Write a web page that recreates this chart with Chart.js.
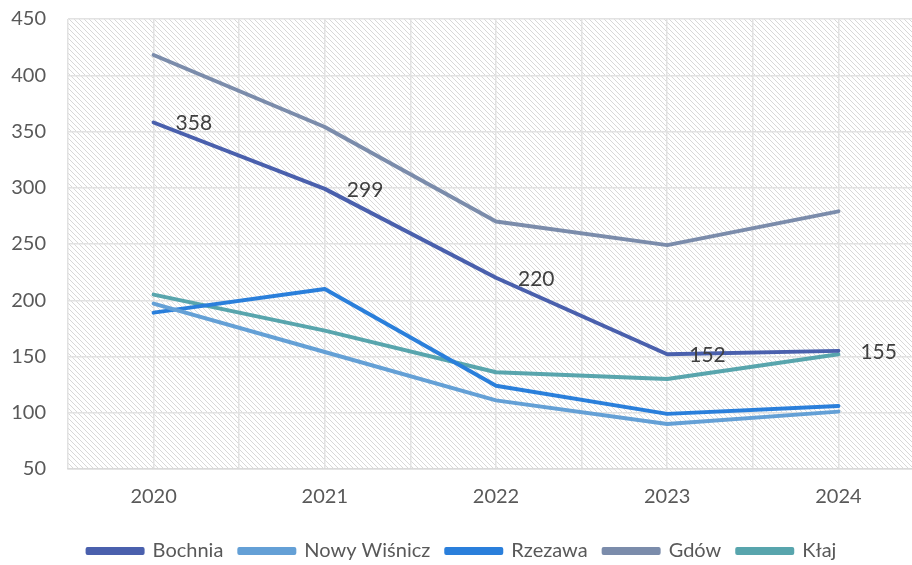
<!DOCTYPE html>
<html>
<head>
<meta charset="utf-8">
<script src="https://cdn.jsdelivr.net/npm/chart.js@4"></script>
<style>
  html, body { margin: 0; padding: 0; background: #fff; overflow: hidden; }
  #wrap { width: 954px; height: 565px; }
</style>
</head>
<body>
<div id="wrap"><canvas id="LineChart" width="954" height="565"></canvas></div>
<script>
// data
var years = ["2020", "2021", "2022", "2023", "2024"];
var bochnia = [358, 299, 220, 152, 155];
var nowyWisnicz = [197, 154, 111, 90, 101];
var rzezawa = [189, 210, 124, 99, 106];
var gdow = [418, 354, 270, 249, 279];
var klaj = [205, 173, 136, 130, 152];
var yTicks = [50, 100, 150, 200, 250, 300, 350, 400, 450];

var seriesNames = ["Bochnia", "Nowy Wiśnicz", "Rzezawa", "Gdów", "Kłaj"];
var seriesValues = [bochnia, nowyWisnicz, rzezawa, gdow, klaj];
var seriesColors = ["#4a60ad", "#64a0d6", "#2a7fdb", "#7b8cab", "#58a5ad"];

function toPoints(values) {
    return values.map(function (v, i) { return { x: i, y: v }; });
}

var _datasets = seriesNames.map(function (name, i) {
    return {
        label: name,
        data: toPoints(seriesValues[i]),
        borderColor: seriesColors[i],
        backgroundColor: seriesColors[i],
        borderWidth: 4,
        pointRadius: 0,
        tension: 0,
        borderCapStyle: "round",
        borderJoinStyle: "round"
    };
});

// hatched plot background
function makeHatch() {
    var c = document.createElement("canvas");
    c.width = 5; c.height = 5;
    var g = c.getContext("2d");
    g.fillStyle = "#ffffff";
    g.fillRect(0, 0, 5, 5);
    g.fillStyle = "#d8d8d8";
    for (var i = 0; i < 5; i++) g.fillRect(i, i, 1, 1);
    return c;
}

var hatchPlugin = {
    id: "hatch",
    beforeDraw: function (chart) {
        var a = chart.chartArea, ctx = chart.ctx;
        ctx.save();
        ctx.fillStyle = ctx.createPattern(makeHatch(), "repeat");
        ctx.fillRect(a.left, a.top, a.right - a.left, a.bottom - a.top);
        ctx.restore();
    }
};

// value labels for Bochnia
var labelPlugin = {
    id: "valueLabels",
    afterDatasetsDraw: function (chart) {
        var ctx = chart.ctx;
        var meta = chart.getDatasetMeta(0);
        ctx.save();
        ctx.font = "21px Lato";
        ctx.fillStyle = "#404040";
        ctx.textAlign = "left";
        ctx.textBaseline = "middle";
        meta.data.forEach(function (pt, i) {
            ctx.fillText(String(bochnia[i]), pt.x + 22, pt.y + 1);
        });
        ctx.restore();
    }
};

function noVertPadding(scale) {
    scale.paddingTop = 0;
    scale.paddingBottom = 0;
}

new Chart("LineChart", {
    type: "line",
    data: { datasets: _datasets },
    plugins: [hatchPlugin, labelPlugin],
    options: {
        responsive: false,
        animation: false,
        layout: { padding: { top: 19, right: 30, left: 0, bottom: -6 } },
        plugins: {
            tooltip: { enabled: false },
            legend: {
                position: "bottom",
                labels: {
                    boxWidth: 55,
                    boxHeight: 4,
                    padding: 16,
                    color: "#595959",
                    font: { family: "Lato", size: 20 }
                }
            }
        },
        scales: {
            x: {
                type: "linear",
                min: -0.5,
                max: 4.5,
                afterBuildTicks: function (scale) {
                    var t = [];
                    for (var v = -0.5; v <= 4.5; v += 0.5) t.push({ value: v });
                    scale.ticks = t;
                },
                afterFit: noVertPadding,
                ticks: {
                    autoSkip: false,
                    maxRotation: 0,
                    padding: 16,
                    color: "#595959",
                    font: { family: "Lato", size: 20 },
                    callback: function (v) {
                        return Number.isInteger(v) ? years[v] : "";
                    }
                },
                grid: { color: "#e2e2e2", lineWidth: 1.5, drawTicks: false },
                border: { color: "#d9d9d9", width: 1.5 }
            },
            y: {
                min: yTicks[0],
                max: yTicks[yTicks.length - 1],
                afterBuildTicks: function (scale) {
                    scale.ticks = yTicks.map(function (v) { return { value: v }; });
                },
                afterFit: function (scale) {
                    scale.width = 68;
                    noVertPadding(scale);
                },
                ticks: {
                    padding: 22,
                    color: "#595959",
                    font: { family: "Lato", size: 20 }
                },
                grid: { color: "#e2e2e2", lineWidth: 1.5, drawTicks: false },
                border: { display: false }
            }
        }
    }
});
</script>
</body>
</html>
